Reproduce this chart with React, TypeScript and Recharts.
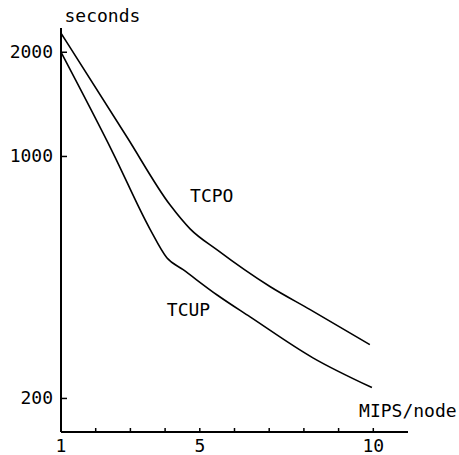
import { LineChart, Line, XAxis, YAxis, ReferenceDot, Label } from 'recharts';

// MIPS per node (x) and elapsed seconds (log y)
const tcpoMips = [1, 2.9, 4.14, 4.72, 5.5, 7.02, 8.18, 9.9];
const tcpoSeconds = [2270, 1138, 725, 618, 537, 421, 361, 286];
const tcupMips = [1, 2.5, 3.56, 4.05, 4.52, 5.5, 6.45, 8.26, 9.96];
const tcupSeconds = [2000, 1023, 618, 510, 471, 398, 344, 262, 215];

const xTicks = [1, 2, 3, 4, 5, 6, 7, 8, 9, 10];
const xLabelled = [1, 5, 10];
const yTicks = [200, 1000, 2000];

const tcpo = tcpoMips.map((x, i) => ({ x, y: tcpoSeconds[i] }));
const tcup = tcupMips.map((x, i) => ({ x, y: tcupSeconds[i] }));

const font = '"DejaVu Sans Mono", monospace';

const XTick = ({ x, y, payload }: any) => (
  <g>
    <line x1={x} x2={x} y1={y} y2={y - 4} stroke="#000" strokeWidth={1.5} />
    {xLabelled.includes(payload.value) && (
      <text x={x} y={y + 20} textAnchor="middle" fontSize={18} fontFamily={font} fill="#000">
        {payload.value}
      </text>
    )}
  </g>
);

const YTick = ({ x, y, payload }: any) => (
  <g>
    <line x1={x} x2={x + 6} y1={y} y2={y} stroke="#000" strokeWidth={1.5} />
    <text x={x - 8} y={y + 6} textAnchor="end" fontSize={18} fontFamily={font} fill="#000">
      {payload.value}
    </text>
  </g>
);

const txt = (value: string) => (
  <Label value={value} position="right" offset={0} fontSize={18} fontFamily={font} fill="#000" />
);

export default function App() {
  return (
    <div style={{ position: 'absolute', left: 0, top: 0, width: 459, height: 455, background: '#fff' }}>
      <LineChart width={459} height={455} margin={{ top: 28, right: 51, left: 0, bottom: 0 }}>
        <XAxis
          type="number"
          dataKey="x"
          domain={[1, 11]}
          ticks={xTicks}
          allowDuplicatedCategory={false}
          height={23}
          stroke="#000"
          strokeWidth={2}
          tickLine={false}
          tickSize={0}
          tickMargin={0}
          tick={<XTick />}
        />
        <YAxis
          type="number"
          dataKey="y"
          scale="log"
          domain={[160, 2350]}
          ticks={yTicks}
          width={61}
          stroke="#000"
          strokeWidth={2}
          tickLine={false}
          tickSize={0}
          tickMargin={0}
          tick={<YTick />}
          allowDataOverflow
        />
        <Line data={tcpo} dataKey="y" type="monotone" stroke="#000" strokeWidth={1.6} dot={false} isAnimationActive={false} />
        <Line data={tcup} dataKey="y" type="monotone" stroke="#000" strokeWidth={1.6} dot={false} isAnimationActive={false} />
        <ReferenceDot x={4.72} y={769} r={0} ifOverflow="visible">{txt('TCPO')}</ReferenceDot>
        <ReferenceDot x={4.05} y={361} r={0} ifOverflow="visible">{txt('TCUP')}</ReferenceDot>
        <ReferenceDot x={9.59} y={185} r={0} ifOverflow="visible">{txt('MIPS/node')}</ReferenceDot>
        <ReferenceDot x={1.1} y={2556} r={0} ifOverflow="visible">{txt('seconds')}</ReferenceDot>
      </LineChart>
    </div>
  );
}
